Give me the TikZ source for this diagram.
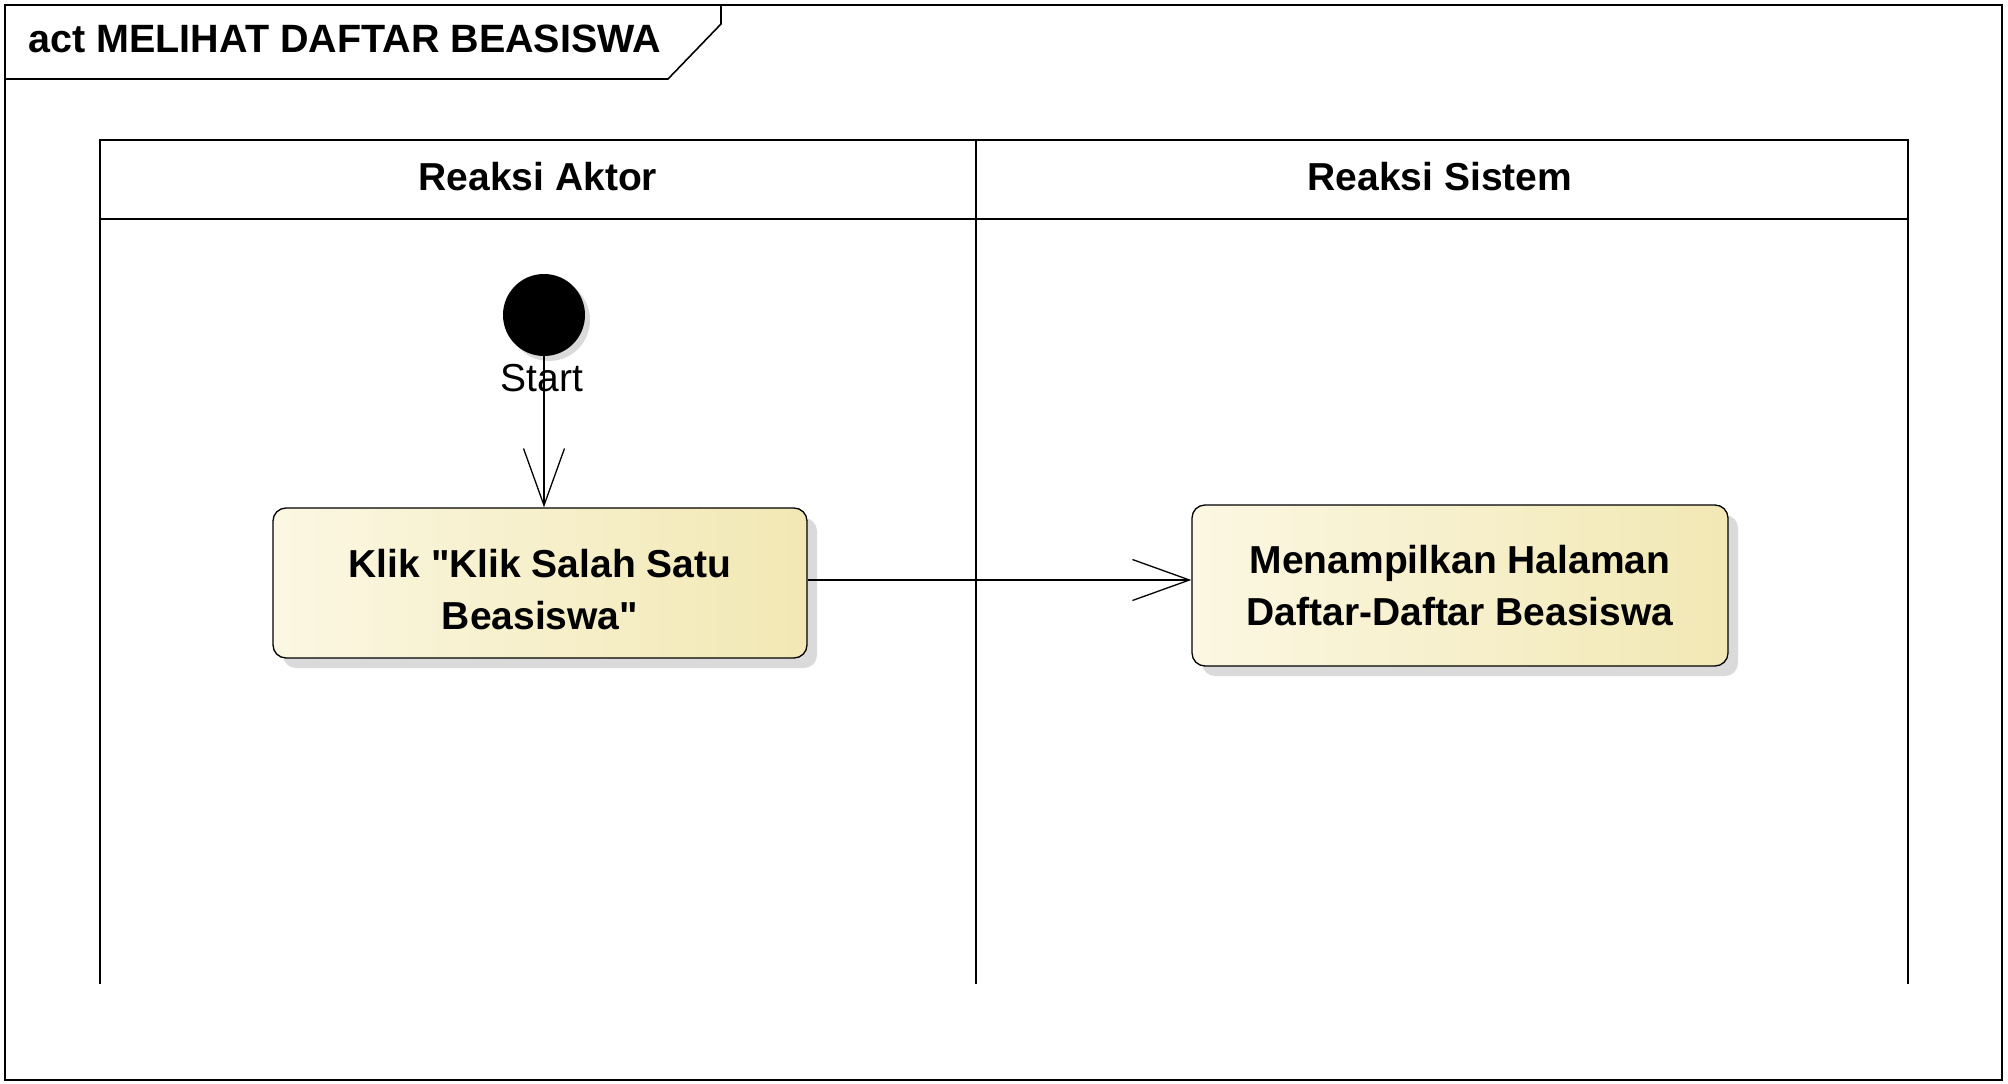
\documentclass[tikz,border=0pt]{standalone}
\usepackage{fontspec}
\setmainfont{Liberation Sans}
\newfontfamily\arialf{Liberation Sans}
\usetikzlibrary{arrows.meta,shadows}
\definecolor{boxL}{HTML}{FBF7E2}
\definecolor{boxR}{HTML}{F2E8B4}
\definecolor{shad}{HTML}{DADADA}
\begin{document}
\begin{tikzpicture}[x=1pt,y=-1pt,
  frameline/.style={line width=1.6pt},
  laneline/.style={line width=1.3pt},
  bigfont/.style={font=\arialf\bfseries\fontsize{39}{52}\selectfont},
  actbox/.style={draw, line width=1.3pt, rounded corners=13pt, left color=boxL, right color=boxR,
    bigfont, align=center, inner sep=0pt,
    drop shadow={shadow xshift=10pt, shadow yshift=-10pt, fill=shad, opacity=1}},
  flow/.style={line width=1.3pt, -{Straight Barb[length=57pt,width=41pt,line width=1.3pt]}}
]
\useasboundingbox (0,0) rectangle (2008,1084);
% frame
\draw[frameline] (5,5) rectangle (2002,1080);
\draw[frameline] (5,79) -- (668,79) -- (721,24) -- (721,5);
\node[font=\arialf\bfseries\fontsize{39.5}{52}\selectfont, anchor=base west] (title) at (25,52) {act MELIHAT DAFTAR BEASISWA};
% swimlanes
\draw[laneline] (100,984) -- (100,140) -- (1908,140) -- (1908,984);
\draw[laneline] (100,219) -- (1908,219);
\draw[laneline] (976,140) -- (976,984);
\node[bigfont, anchor=base] (lane1) at (538,190) {Reaksi Aktor};
\node[bigfont, anchor=base] (lane2) at (1440,190) {Reaksi Sistem};
% start
\node[circle, fill=black, minimum size=82pt, inner sep=0pt,
  drop shadow={shadow xshift=5pt, shadow yshift=-5pt, fill=shad, opacity=1}] (start) at (544,315) {};
\node[font=\arialf\fontsize{39}{46}\selectfont] (startlbl) at (542,378) {Start};
% activities
\node[actbox, minimum width=534pt, minimum height=150pt] (b1) at (540,583)
  {\rule{0pt}{41pt}Klik "Klik Salah Satu\\Beasiswa"};
\node[actbox, minimum width=536pt, minimum height=161pt] (b2) at (1460,585.5)
  {Menampilkan Halaman\\Daftar-Daftar Beasiswa};
% flows
\draw[flow] (start.south) -- (start.south |- b1.north);
\coordinate (a2s) at ([yshift=3pt]b1.east);
\draw[flow] (a2s) -- (a2s -| b2.west);
\end{tikzpicture}
\end{document}
